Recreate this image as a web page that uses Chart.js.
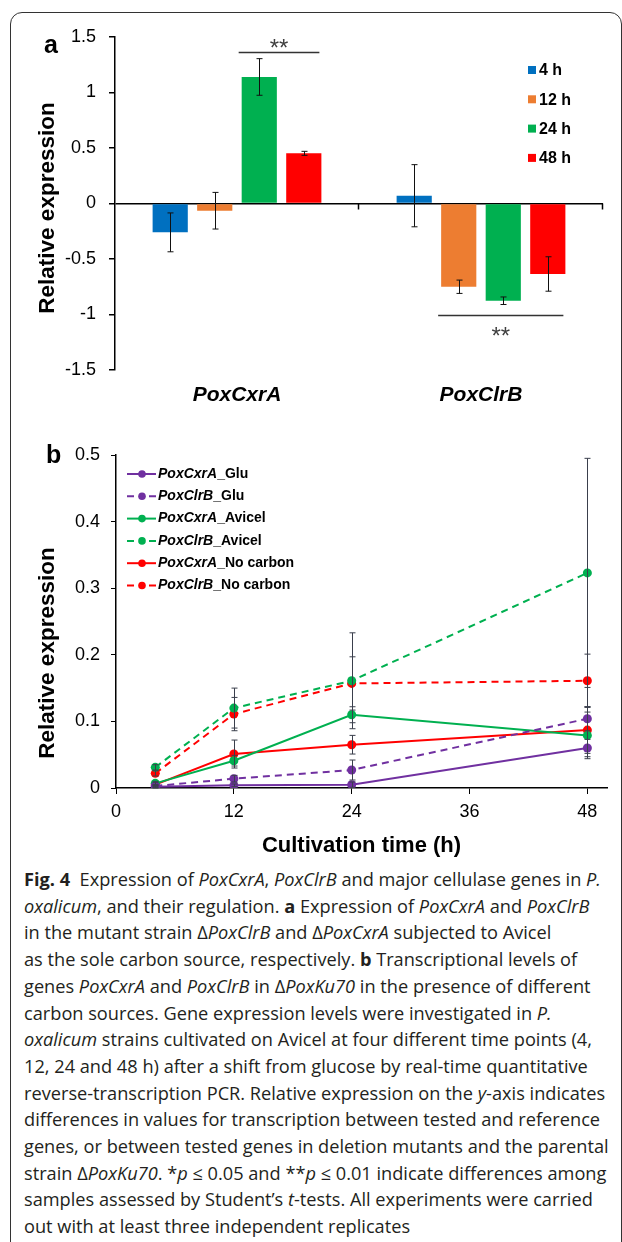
<!DOCTYPE html>
<html>
<head>
<meta charset="utf-8">
<script src="https://cdn.jsdelivr.net/npm/chart.js@4.4.0/dist/chart.umd.min.js"></script>
<style>
    html, body { margin: 0; padding: 0; background: #fff; }
    body { position: relative; width: 622px; height: 1242px; overflow: hidden; }
    .frame {
        position: absolute; left: 10px; top: 12px; width: 612px; height: 1300px;
        border: 1px solid #333; border-radius: 12px; box-sizing: border-box;
    }
    #chartA { position: absolute; left: 0; top: 0; }
    #chartB { position: absolute; left: 0; top: 420px; }
    .caption {
        position: absolute; left: 24px; top: 866px;
        font-family: 'Open Sans', 'Noto Sans', sans-serif; font-size: 18.2px;
        line-height: 26.7px; color: #231f20; white-space: nowrap;
    }
    .caption b { font-weight: 700; }
</style>
</head>
<body>
<div class="frame"></div>
<canvas id="chartA" width="622" height="420"></canvas>
<canvas id="chartB" width="622" height="440"></canvas>
<div class="caption">
    <div><b>Fig. 4</b>&nbsp; Expression of <i>PoxCxrA</i>, <i>PoxClrB</i> and major cellulase genes in <i>P.</i></div>
    <div><i>oxalicum</i>, and their regulation. <b>a</b> Expression of <i>PoxCxrA</i> and <i>PoxClrB</i></div>
    <div>in the mutant strain Δ<i>PoxClrB</i> and Δ<i>PoxCxrA</i> subjected to Avicel</div>
    <div>as the sole carbon source, respectively. <b>b</b> Transcriptional levels of</div>
    <div>genes <i>PoxCxrA</i> and <i>PoxClrB</i> in Δ<i>PoxKu70</i> in the presence of different</div>
    <div>carbon sources. Gene expression levels were investigated in <i>P.</i></div>
    <div><i>oxalicum</i> strains cultivated on Avicel at four different time points (4,</div>
    <div>12, 24 and 48 h) after a shift from glucose by real-time quantitative</div>
    <div>reverse-transcription PCR. Relative expression on the <i>y</i>-axis indicates</div>
    <div>differences in values for transcription between tested and reference</div>
    <div>genes, or between tested genes in deletion mutants and the parental</div>
    <div>strain Δ<i>PoxKu70</i>. *<i>p</i> ≤ 0.05 and **<i>p</i> ≤ 0.01 indicate differences among</div>
    <div>samples assessed by Student’s <i>t</i>-tests. All experiments were carried</div>
    <div>out with at least three independent replicates</div>
</div>
<script>
// ---- panel a: relative expression in the deletion mutants ----
const genes = ['PoxCxrA', 'PoxClrB'];
const hourLabels = ['4 h', '12 h', '24 h', '48 h'];
const expr4h = [-0.26, 0.07];
const expr12h = [-0.065, -0.75];
const expr24h = [1.14, -0.876];
const expr48h = [0.452, -0.635];
const err4h = [0.175, 0.28];
const err12h = [0.165, 0.06];
const err24h = [0.165, 0.034];
const err48h = [0.018, 0.155];
const barTicks = [1.5, 1, 0.5, 0, -0.5, -1, -1.5];

// significance brackets: which bars they span and at what level
const sigBrackets = [
    { category: 0, fromSeries: 2, toSeries: 3, level: 1.365, side: 'above', text: '**' },
    { category: 1, fromSeries: 1, toSeries: 3, level: -1.0, side: 'below', text: '**' }
];

// ---- panel b: time course in ΔPoxKu70 ----
const timePoints = [4, 12, 24, 48];
const timeTicks = [0, 12, 24, 36, 48];
const cxrGlu = [0.002, 0.004, 0.005, 0.060];
const clrGlu = [0.003, 0.014, 0.027, 0.104];
const cxrAvicel = [0.007, 0.041, 0.110, 0.079];
const clrAvicel = [0.031, 0.120, 0.161, 0.323];
const cxrNoCarbon = [0.005, 0.051, 0.065, 0.087];
const clrNoCarbon = [0.022, 0.111, 0.157, 0.161];
const cxrGluErr = [0.002, 0.002, 0.004, 0.013];
const clrGluErr = [0.002, 0.005, 0.015, 0.018];
const cxrAvicelErr = [0.003, 0.008, 0.012, 0.035];
const clrAvicelErr = [0.004, 0.030, 0.072, 0.172];
const cxrNoCarbonErr = [0.003, 0.021, 0.014, 0.035];
const clrNoCarbonErr = [0.004, 0.025, 0.040, 0.040];

const FONT = "'Liberation Sans', Arial, sans-serif";
const BLUE = '#0070C0', ORANGE = '#ED7D31', GREEN = '#00B050', RED = '#FF0000', PURPLE = '#7030A0';

// Error bars for bars and points (dataset.errors holds the +/- values)
const errorBarPlugin = {
    id: 'errorBars',
    afterDatasetsDraw(chart, args, opts) {
        const { ctx } = chart;
        const y = chart.scales.y;
        ctx.save();
        ctx.strokeStyle = opts.color;
        ctx.lineWidth = 1;
        chart.data.datasets.forEach((ds, i) => {
            if (!ds.errors) return;
            chart.getDatasetMeta(i).data.forEach((el, j) => {
                const d = ds.data[j];
                const v = typeof d === 'object' ? d.y : d;
                const e = ds.errors[j];
                const top = y.getPixelForValue(v + e);
                const bot = y.getPixelForValue(v - e);
                const x = Math.round(el.x) + 0.5;
                ctx.beginPath();
                ctx.moveTo(x, top); ctx.lineTo(x, bot);
                ctx.moveTo(x - opts.cap, top); ctx.lineTo(x + opts.cap, top);
                ctx.moveTo(x - opts.cap, bot); ctx.lineTo(x + opts.cap, bot);
                ctx.stroke();
            });
        });
        ctx.restore();
    }
};

// Rotated y title and the panel letter
const panelTextPlugin = {
    id: 'panelText',
    afterDraw(chart, args, opts) {
        const { ctx } = chart;
        ctx.save();
        ctx.fillStyle = '#000';
        ctx.font = 'bold 25px ' + FONT;
        ctx.textAlign = 'left';
        ctx.textBaseline = 'alphabetic';
        ctx.fillText(opts.letter, opts.letterX, opts.letterY);
        ctx.translate(opts.titleX, opts.titleY);
        ctx.rotate(-Math.PI / 2);
        ctx.font = 'bold 22.5px ' + FONT;
        ctx.textAlign = 'center';
        ctx.textBaseline = 'middle';
        ctx.fillText(opts.title, 0, 0);
        ctx.restore();
    }
};

// Square legend for panel a
const barLegendPlugin = {
    id: 'barLegend',
    afterDraw(chart, args, opts) {
        const { ctx } = chart;
        ctx.save();
        ctx.font = 'bold 16px ' + FONT;
        ctx.textBaseline = 'middle';
        chart.data.datasets.forEach((ds, i) => {
            const y = opts.y + i * opts.step;
            ctx.fillStyle = ds.backgroundColor;
            ctx.fillRect(opts.x, y - 4, 8, 8);
            ctx.fillStyle = '#000';
            ctx.fillText(ds.label, opts.x + 11, y + 1);
        });
        ctx.restore();
    }
};

// Zero line category ticks and significance brackets for panel a
const barExtrasPlugin = {
    id: 'barExtras',
    afterDatasetsDraw(chart, args, opts) {
        const { ctx, chartArea } = chart;
        const y = chart.scales.y;
        const y0 = y.getPixelForValue(0);
        const catW = (chartArea.right - chartArea.left) / genes.length;
        ctx.save();
        ctx.strokeStyle = '#000';
        ctx.lineWidth = 1.5;
        for (let i = 1; i <= genes.length; i++) {
            const px = Math.round(chartArea.left + catW * i) - 0.5;
            ctx.beginPath();
            ctx.moveTo(px, y0); ctx.lineTo(px, y0 + 6);
            ctx.stroke();
        }
        sigBrackets.forEach(b => {
            const first = chart.getDatasetMeta(b.fromSeries).data[b.category];
            const last = chart.getDatasetMeta(b.toSeries).data[b.category];
            const x1 = first.x - first.width / 2 - 3;
            const x2 = last.x + last.width / 2 - 2;
            const ly = Math.round(y.getPixelForValue(b.level)) + 0.5;
            ctx.strokeStyle = '#333';
            ctx.lineWidth = 1.5;
            ctx.beginPath();
            ctx.moveTo(x1, ly); ctx.lineTo(x2, ly);
            ctx.stroke();
            ctx.fillStyle = '#404040';
            ctx.font = '24px ' + FONT;
            ctx.textAlign = 'center';
            ctx.textBaseline = 'alphabetic';
            const base = b.side === 'above' ? ly + 3 : ly + 28;
            ctx.fillText(b.text, (x1 + x2) / 2, base);
        });
        ctx.restore();
    }
};

// Line legend for panel b: italic gene name followed by the condition
const lineLegendPlugin = {
    id: 'lineLegend',
    afterDraw(chart, args, opts) {
        const { ctx } = chart;
        ctx.save();
        ctx.textBaseline = 'middle';
        chart.data.datasets.forEach((ds, i) => {
            const y = opts.y + i * opts.step;
            ctx.strokeStyle = ds.borderColor;
            ctx.lineWidth = 2;
            ctx.beginPath();
            if (ds.dashed) {
                ctx.moveTo(opts.x, y); ctx.lineTo(opts.x + 7, y);
                ctx.moveTo(opts.x + 22, y); ctx.lineTo(opts.x + 29, y);
            } else {
                ctx.moveTo(opts.x, y); ctx.lineTo(opts.x + 29, y);
            }
            ctx.stroke();
            ctx.fillStyle = ds.borderColor;
            ctx.beginPath();
            ctx.arc(opts.x + 15, y, 3.8, 0, Math.PI * 2);
            ctx.fill();
            const cut = ds.label.indexOf('_');
            const gene = ds.label.slice(0, cut), rest = ds.label.slice(cut);
            ctx.fillStyle = '#000';
            ctx.font = 'italic bold 14px ' + FONT;
            ctx.fillText(gene, opts.x + 31, y);
            const w = ctx.measureText(gene).width;
            ctx.font = 'bold 14px ' + FONT;
            ctx.fillText(rest, opts.x + 31 + w, y);
        });
        ctx.restore();
    }
};

function barSet(label, data, errors, color) {
    return { label, data, errors, backgroundColor: color, borderWidth: 0 };
}

new Chart(document.getElementById('chartA'), {
    type: 'bar',
    data: {
        labels: genes,
        datasets: [
            barSet(hourLabels[0], expr4h, err4h, BLUE),
            barSet(hourLabels[1], expr12h, err12h, ORANGE),
            barSet(hourLabels[2], expr24h, err24h, GREEN),
            barSet(hourLabels[3], expr48h, err48h, RED)
        ]
    },
    options: {
        responsive: false,
        animation: false,
        categoryPercentage: 0.73,
        barPercentage: 0.79,
        layout: { padding: { top: 37, right: 19, bottom: 0, left: 0 } },
        scales: {
            x: {
                grid: { display: false, drawTicks: false },
                border: { display: false },
                ticks: {
                    color: '#000', padding: 13,
                    font: { family: FONT, size: 21, weight: 'bold', style: 'italic' }
                },
                afterFit: scale => { scale.height = 50; }
            },
            y: {
                min: -1.5, max: 1.5,
                afterBuildTicks: scale => { scale.ticks = barTicks.map(v => ({ value: v })); },
                grid: {
                    color: ctx => (ctx.tick && ctx.tick.value === 0 ? '#000' : 'rgba(0,0,0,0)'),
                    tickColor: '#000', lineWidth: 1.5, tickLength: 6
                },
                border: { color: '#000', width: 1.5 },
                ticks: {
                    color: '#000', padding: 13,
                    font: { family: FONT, size: 18 },
                    callback: v => String(v)
                },
                afterFit: scale => { scale.width = 115; }
            }
        },
        plugins: {
            legend: { display: false },
            tooltip: { enabled: false },
            errorBars: { color: '#111', cap: 3 },
            barLegend: { x: 528, y: 70, step: 29.3 },
            panelText: { letter: 'a', letterX: 44, letterY: 53, title: 'Relative expression', titleX: 48, titleY: 208 }
        }
    },
    plugins: [errorBarPlugin, barExtrasPlugin, barLegendPlugin, panelTextPlugin]
});

function lineSet(label, values, errors, color, dashed) {
    return {
        label, errors, dashed,
        data: timePoints.map((t, i) => ({ x: t, y: values[i] })),
        borderColor: color, backgroundColor: color,
        borderWidth: 2, borderDash: dashed ? [7, 5] : [],
        pointRadius: 4.5, pointBorderWidth: 0, pointBackgroundColor: color,
        tension: 0
    };
}

new Chart(document.getElementById('chartB'), {
    type: 'line',
    data: {
        datasets: [
            lineSet('PoxCxrA_Glu', cxrGlu, cxrGluErr, PURPLE, false),
            lineSet('PoxClrB_Glu', clrGlu, clrGluErr, PURPLE, true),
            lineSet('PoxCxrA_Avicel', cxrAvicel, cxrAvicelErr, GREEN, false),
            lineSet('PoxClrB_Avicel', clrAvicel, clrAvicelErr, GREEN, true),
            lineSet('PoxCxrA_No carbon', cxrNoCarbon, cxrNoCarbonErr, RED, false),
            lineSet('PoxClrB_No carbon', clrNoCarbon, clrNoCarbonErr, RED, true)
        ]
    },
    options: {
        responsive: false,
        animation: false,
        layout: { padding: { top: 35, right: 15, bottom: 0, left: 0 } },
        scales: {
            x: {
                type: 'linear', min: 0, max: 50,
                afterBuildTicks: scale => { scale.ticks = timeTicks.map(v => ({ value: v })); },
                grid: { drawOnChartArea: false, color: '#000', tickLength: 6 },
                border: { color: '#000', width: 1.5 },
                ticks: { color: '#000', padding: 7, font: { family: FONT, size: 18 } },
                title: {
                    display: true, text: 'Cultivation time (h)', color: '#000',
                    font: { family: FONT, size: 22, weight: 'bold' },
                    padding: { top: 0, bottom: 1 }
                },
                afterFit: scale => { scale.height = 72; }
            },
            y: {
                min: 0, max: 0.5,
                ticks: {
                    stepSize: 0.1, color: '#000', padding: 11,
                    font: { family: FONT, size: 18 },
                    callback: v => String(+v.toFixed(1))
                },
                grid: { drawOnChartArea: false, color: '#000', tickLength: 5 },
                border: { color: '#000', width: 1.5 },
                afterFit: scale => { scale.width = 116; }
            }
        },
        plugins: {
            legend: { display: false },
            tooltip: { enabled: false },
            errorBars: { color: '#3a3f4c', cap: 3 },
            lineLegend: { x: 127, y: 54, step: 22.3 },
            panelText: { letter: 'b', letterX: 46, letterY: 463 - 420, title: 'Relative expression', titleX: 48, titleY: 653 - 420 }
        }
    },
    plugins: [errorBarPlugin, lineLegendPlugin, panelTextPlugin]
});
</script>
</body>
</html>
